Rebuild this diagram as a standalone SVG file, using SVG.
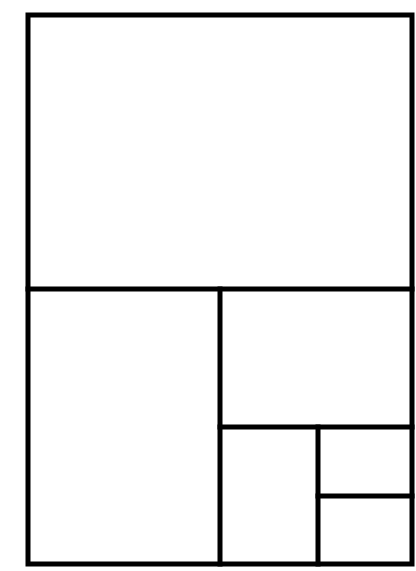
<svg xmlns="http://www.w3.org/2000/svg" width="416" height="571" viewBox="0 0 416 571">
<style>.l{stroke:#000;stroke-width:5;fill:none;stroke-linecap:square}</style>
<rect width="416" height="571" fill="#fff"/>
<g id="frame"><rect class="l" x="28" y="15" width="384" height="549"/></g>
<g id="dividers">
<line class="l" x1="28" y1="289" x2="412" y2="289"/>
<line class="l" x1="220" y1="289" x2="220" y2="564"/>
<line class="l" x1="220" y1="427" x2="412" y2="427"/>
<line class="l" x1="318" y1="427" x2="318" y2="564"/>
<line class="l" x1="318" y1="496" x2="412" y2="496"/>
</g>
</svg>
